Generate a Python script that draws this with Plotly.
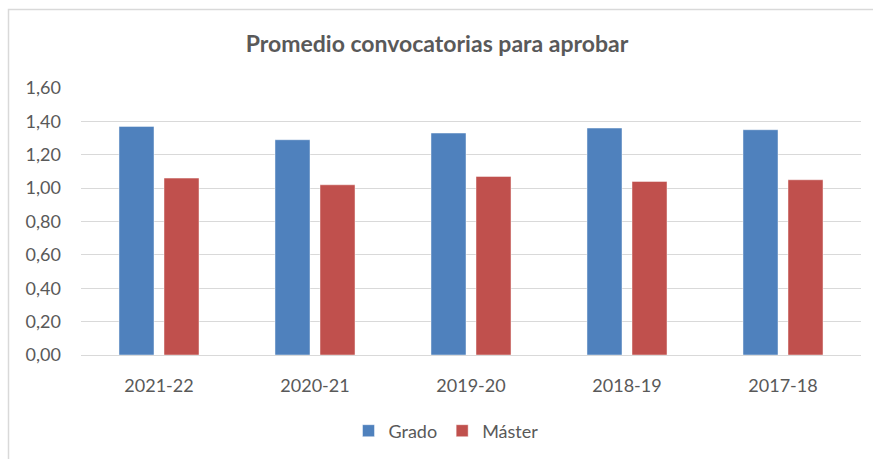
import plotly.graph_objects as go

# Academic years (categories) and average number of exam sittings needed to pass
cursos = ["2021-22", "2020-21", "2019-20", "2018-19", "2017-18"]
grado = [1.37, 1.29, 1.33, 1.36, 1.35]
master = [1.06, 1.02, 1.07, 1.04, 1.05]

y_ticks = [0.0, 0.2, 0.4, 0.6, 0.8, 1.0, 1.2, 1.4, 1.6]

GRAY_TEXT = "#595959"
GRID = "#D9D9D9"
FONT = "Lato, Calibri, 'Open Sans', sans-serif"

fig = go.Figure()
fig.add_trace(go.Bar(
    name="Grado", x=cursos, y=grado,
    marker=dict(color="#4F81BD", line=dict(color="rgba(255,255,255,0.45)", width=1)),
))
fig.add_trace(go.Bar(
    name="Máster", x=cursos, y=master,
    marker=dict(color="#C0504D", line=dict(color="rgba(255,255,255,0.45)", width=1)),
))

W, H = 873, 459
L, R, T, B = 81, 12, 88, 104
pw, ph = W - L - R, H - T - B

def px_to_paper_x(px):
    return (px - L) / pw

def px_to_paper_y(py):
    return (H - B - py) / ph

fig.update_layout(
    width=W, height=H,
    margin=dict(l=L, r=R, t=T, b=B),
    paper_bgcolor="white",
    plot_bgcolor="white",
    separators=",.",
    barmode="group",
    bargap=0.423,
    bargroupgap=0.222,
    font=dict(family=FONT, color=GRAY_TEXT, size=18),
    title=dict(
        text="<b>Promedio convocatorias para aprobar</b>",
        font=dict(family=FONT, size=23, color=GRAY_TEXT),
        xref="paper", x=px_to_paper_x(437), xanchor="center",
        yref="container", y=1 - 44 / H, yanchor="middle",
    ),
    legend=dict(
        orientation="h",
        xref="paper", x=px_to_paper_x(446), xanchor="center",
        yref="container", y=1 - 431 / H, yanchor="middle",
        font=dict(family=FONT, size=18, color=GRAY_TEXT),
        itemclick=False,
    ),
    xaxis=dict(
        showgrid=False,
        showline=True, linecolor=GRID, linewidth=1,
        ticks="", ticklabelstandoff=14,
        tickfont=dict(size=18, color=GRAY_TEXT),
    ),
    yaxis=dict(
        range=[0, 1.6],
        tickvals=y_ticks,
        tickformat=".2f",
        showgrid=True, gridcolor=GRID, gridwidth=1,
        zeroline=False, showline=False,
        ticks="", ticklabelstandoff=19,
        tickfont=dict(size=18, color=GRAY_TEXT),
    ),
    shapes=[dict(
        type="rect", xref="paper", yref="paper",
        x0=px_to_paper_x(8.5), x1=px_to_paper_x(890),
        y0=px_to_paper_y(480), y1=px_to_paper_y(9.5),
        line=dict(color=GRID, width=1.5), fillcolor="rgba(0,0,0,0)",
        layer="below",
    )],
)

fig.write_html("out.html")
